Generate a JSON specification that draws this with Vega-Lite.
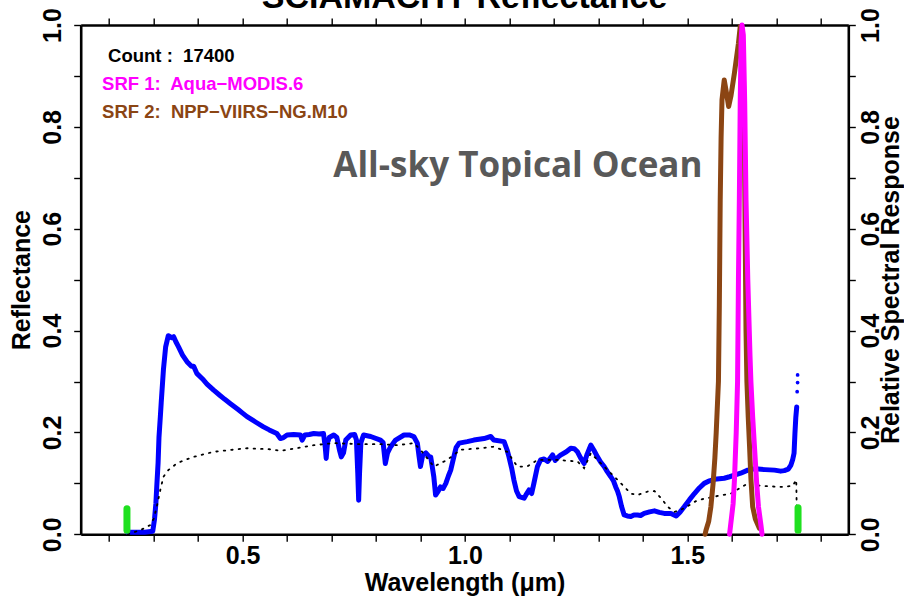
{
  "$schema": "https://vega.github.io/schema/vega-lite/v6.json",
  "width": 767.6,
  "height": 509.3,
  "autosize": {"type": "none"},
  "padding": {"left": 80.7, "top": 25, "right": 55.7, "bottom": 64.7},
  "background": "white",
  "config": {
    "view": {"stroke": null},
    "font": "Liberation Sans",
    "axis": {
      "domainColor": "black", "domainWidth": 2.6, "tickColor": "black", "tickWidth": 1.4, "tickSize": 7,
      "grid": false, "labelFont": "Liberation Sans", "labelFontWeight": "bold", "labelFontSize": 25, "labelColor": "black",
      "titleFont": "Liberation Sans", "titleFontWeight": "bold", "titleFontSize": 25, "titleColor": "black", "labelOverlap": false, "labelFlush": false
    }
  },
  "title": {"text": "SCIAMACHY Reflectance", "fontSize": 34, "font": "Liberation Sans", "fontWeight": "bold", "anchor": "middle", "frame": "group", "offset": 0, "dy": 7, "color": "black"},
  "datasets": {
    "refl": [
      {"w":0.242,"r":0.004},{"w":0.26,"r":0.004},{"w":0.28,"r":0.004},{"w":0.298,"r":0.006},{"w":0.302,"r":0.03},{"w":0.305,"r":0.06},{"w":0.307,"r":0.093},{"w":0.31,"r":0.14},{"w":0.312,"r":0.19},{"w":0.315,"r":0.23},{"w":0.317,"r":0.258},{"w":0.322,"r":0.323},{"w":0.327,"r":0.368},{"w":0.333,"r":0.39},{"w":0.34,"r":0.386},{"w":0.345,"r":0.388},{"w":0.35,"r":0.378},{"w":0.356,"r":0.368},{"w":0.365,"r":0.352},{"w":0.375,"r":0.339},{"w":0.385,"r":0.33},{"w":0.39,"r":0.33},{"w":0.397,"r":0.316},{"w":0.41,"r":0.305},{"w":0.42,"r":0.295},{"w":0.435,"r":0.283},{"w":0.45,"r":0.272},{"w":0.46,"r":0.265},{"w":0.472,"r":0.257},{"w":0.49,"r":0.245},{"w":0.5,"r":0.238},{"w":0.51,"r":0.231},{"w":0.53,"r":0.22},{"w":0.547,"r":0.211},{"w":0.56,"r":0.205},{"w":0.577,"r":0.198},{"w":0.585,"r":0.188},{"w":0.592,"r":0.19},{"w":0.6,"r":0.195},{"w":0.615,"r":0.196},{"w":0.63,"r":0.195},{"w":0.634,"r":0.185},{"w":0.64,"r":0.195},{"w":0.65,"r":0.196},{"w":0.66,"r":0.198},{"w":0.672,"r":0.197},{"w":0.682,"r":0.198},{"w":0.686,"r":0.17},{"w":0.688,"r":0.149},{"w":0.691,"r":0.18},{"w":0.695,"r":0.19},{"w":0.705,"r":0.195},{"w":0.712,"r":0.19},{"w":0.718,"r":0.165},{"w":0.722,"r":0.152},{"w":0.727,"r":0.16},{"w":0.732,"r":0.185},{"w":0.743,"r":0.195},{"w":0.752,"r":0.196},{"w":0.756,"r":0.185},{"w":0.759,"r":0.12},{"w":0.761,"r":0.067},{"w":0.763,"r":0.12},{"w":0.766,"r":0.18},{"w":0.772,"r":0.195},{"w":0.788,"r":0.192},{"w":0.81,"r":0.185},{"w":0.816,"r":0.18},{"w":0.821,"r":0.139},{"w":0.826,"r":0.16},{"w":0.833,"r":0.172},{"w":0.844,"r":0.185},{"w":0.863,"r":0.195},{"w":0.875,"r":0.195},{"w":0.885,"r":0.192},{"w":0.893,"r":0.179},{"w":0.897,"r":0.152},{"w":0.9,"r":0.133},{"w":0.905,"r":0.155},{"w":0.912,"r":0.16},{"w":0.92,"r":0.152},{"w":0.923,"r":0.152},{"w":0.927,"r":0.13},{"w":0.93,"r":0.113},{"w":0.934,"r":0.077},{"w":0.94,"r":0.085},{"w":0.945,"r":0.093},{"w":0.951,"r":0.09},{"w":0.957,"r":0.1},{"w":0.963,"r":0.115},{"w":0.968,"r":0.126},{"w":0.975,"r":0.152},{"w":0.98,"r":0.17},{"w":0.987,"r":0.179},{"w":1.005,"r":0.182},{"w":1.02,"r":0.185},{"w":1.043,"r":0.188},{"w":1.058,"r":0.192},{"w":1.065,"r":0.185},{"w":1.088,"r":0.182},{"w":1.095,"r":0.165},{"w":1.099,"r":0.152},{"w":1.105,"r":0.13},{"w":1.11,"r":0.107},{"w":1.116,"r":0.085},{"w":1.122,"r":0.074},{"w":1.133,"r":0.071},{"w":1.139,"r":0.08},{"w":1.144,"r":0.087},{"w":1.15,"r":0.08},{"w":1.155,"r":0.1},{"w":1.163,"r":0.133},{"w":1.17,"r":0.146},{"w":1.178,"r":0.148},{"w":1.186,"r":0.143},{"w":1.192,"r":0.15},{"w":1.197,"r":0.156},{"w":1.203,"r":0.145},{"w":1.21,"r":0.152},{"w":1.216,"r":0.156},{"w":1.228,"r":0.162},{"w":1.238,"r":0.169},{"w":1.246,"r":0.168},{"w":1.253,"r":0.162},{"w":1.26,"r":0.15},{"w":1.268,"r":0.139},{"w":1.275,"r":0.158},{"w":1.283,"r":0.175},{"w":1.29,"r":0.165},{"w":1.298,"r":0.152},{"w":1.305,"r":0.142},{"w":1.313,"r":0.133},{"w":1.32,"r":0.123},{"w":1.328,"r":0.113},{"w":1.334,"r":0.105},{"w":1.339,"r":0.093},{"w":1.343,"r":0.085},{"w":1.347,"r":0.074},{"w":1.352,"r":0.055},{"w":1.358,"r":0.038},{"w":1.365,"r":0.036},{"w":1.373,"r":0.035},{"w":1.38,"r":0.038},{"w":1.388,"r":0.038},{"w":1.395,"r":0.037},{"w":1.403,"r":0.041},{"w":1.415,"r":0.044},{"w":1.426,"r":0.046},{"w":1.437,"r":0.043},{"w":1.448,"r":0.041},{"w":1.463,"r":0.041},{"w":1.475,"r":0.036},{"w":1.484,"r":0.044},{"w":1.493,"r":0.054},{"w":1.505,"r":0.068},{"w":1.516,"r":0.08},{"w":1.527,"r":0.091},{"w":1.538,"r":0.1},{"w":1.55,"r":0.105},{"w":1.561,"r":0.108},{"w":1.572,"r":0.109},{"w":1.583,"r":0.11},{"w":1.595,"r":0.113},{"w":1.606,"r":0.116},{"w":1.62,"r":0.12},{"w":1.636,"r":0.126},{"w":1.648,"r":0.128},{"w":1.659,"r":0.128},{"w":1.675,"r":0.127},{"w":1.696,"r":0.126},{"w":1.71,"r":0.124},{"w":1.718,"r":0.125},{"w":1.727,"r":0.128},{"w":1.733,"r":0.136},{"w":1.737,"r":0.147},{"w":1.74,"r":0.159},{"w":1.742,"r":0.198},{"w":1.744,"r":0.23},{"w":1.746,"r":0.25}
    ],
    "reflDots": [
      {"w":1.747,"r":0.28},{"w":1.748,"r":0.298},{"w":1.748,"r":0.313}
    ],
    "ref2": [
      {"w":0.242,"r":0.0},{"w":0.27,"r":0.008},{"w":0.292,"r":0.018},{"w":0.3,"r":0.03},{"w":0.307,"r":0.054},{"w":0.315,"r":0.087},{"w":0.322,"r":0.113},{"w":0.333,"r":0.126},{"w":0.352,"r":0.139},{"w":0.37,"r":0.146},{"w":0.39,"r":0.152},{"w":0.435,"r":0.162},{"w":0.51,"r":0.169},{"w":0.56,"r":0.167},{"w":0.585,"r":0.164},{"w":0.622,"r":0.169},{"w":0.66,"r":0.175},{"w":0.705,"r":0.179},{"w":0.765,"r":0.177},{"w":0.81,"r":0.177},{"w":0.848,"r":0.175},{"w":0.885,"r":0.179},{"w":0.9,"r":0.166},{"w":0.93,"r":0.133},{"w":0.96,"r":0.146},{"w":0.99,"r":0.166},{"w":1.035,"r":0.169},{"w":1.065,"r":0.172},{"w":1.095,"r":0.162},{"w":1.118,"r":0.133},{"w":1.14,"r":0.133},{"w":1.163,"r":0.146},{"w":1.208,"r":0.146},{"w":1.253,"r":0.143},{"w":1.268,"r":0.13},{"w":1.283,"r":0.159},{"w":1.313,"r":0.133},{"w":1.343,"r":0.107},{"w":1.373,"r":0.08},{"w":1.388,"r":0.077},{"w":1.411,"r":0.084},{"w":1.426,"r":0.085},{"w":1.441,"r":0.071},{"w":1.456,"r":0.054},{"w":1.471,"r":0.044},{"w":1.493,"r":0.051},{"w":1.523,"r":0.067},{"w":1.561,"r":0.074},{"w":1.598,"r":0.08},{"w":1.636,"r":0.1},{"w":1.666,"r":0.095},{"w":1.711,"r":0.093},{"w":1.737,"r":0.095},{"w":1.745,"r":0.107},{"w":1.746,"r":0.05},{"w":1.747,"r":0.0}
    ],
    "srf1": [
      {"w":1.595,"s":0.0},{"w":1.597,"s":0.015},{"w":1.603,"s":0.06},{"w":1.606,"s":0.107},{"w":1.61,"s":0.2},{"w":1.613,"s":0.3},{"w":1.615,"s":0.5},{"w":1.617,"s":0.657},{"w":1.619,"s":0.85},{"w":1.621,"s":0.97},{"w":1.623,"s":1.0},{"w":1.626,"s":0.98},{"w":1.629,"s":0.85},{"w":1.632,"s":0.657},{"w":1.636,"s":0.5},{"w":1.641,"s":0.35},{"w":1.643,"s":0.3},{"w":1.647,"s":0.23},{"w":1.651,"s":0.172},{"w":1.656,"s":0.1},{"w":1.66,"s":0.054},{"w":1.666,"s":0.015},{"w":1.668,"s":0.0}
    ],
    "srf2": [
      {"w":1.54,"s":0.0},{"w":1.542,"s":0.008},{"w":1.548,"s":0.025},{"w":1.553,"s":0.054},{"w":1.558,"s":0.1},{"w":1.562,"s":0.15},{"w":1.565,"s":0.2},{"w":1.57,"s":0.3},{"w":1.572,"s":0.45},{"w":1.574,"s":0.657},{"w":1.576,"s":0.78},{"w":1.578,"s":0.853},{"w":1.583,"s":0.892},{"w":1.587,"s":0.872},{"w":1.593,"s":0.84},{"w":1.598,"s":0.86},{"w":1.606,"s":0.906},{"w":1.615,"s":0.964},{"w":1.619,"s":0.997},{"w":1.622,"s":0.99},{"w":1.625,"s":0.951},{"w":1.628,"s":0.82},{"w":1.63,"s":0.6},{"w":1.632,"s":0.4},{"w":1.634,"s":0.3},{"w":1.637,"s":0.23},{"w":1.64,"s":0.172},{"w":1.643,"s":0.11},{"w":1.647,"s":0.054},{"w":1.653,"s":0.03},{"w":1.662,"s":0.012}
    ],
    "range": [
      {"w":0.24,"lo":0.008,"hi":0.05},{"w":1.749,"lo":0.008,"hi":0.052}
    ],
    "notes": [
      {"w":0.1976,"r":0.94,"t":"Count :\u00a0 17400","k":"count"},
      {"w":0.184,"r":0.884,"t":"SRF 1:\u00a0 Aqua\u2212MODIS.6","k":"srf1"},
      {"w":0.184,"r":0.83,"t":"SRF 2:\u00a0 NPP\u2212VIIRS\u2212NG.M10","k":"srf2"}
    ],
    "label": [
      {"w":1.119,"r":0.723,"t":"All-sky Topical Ocean"}
    ]
  },
  "layer": [
    {
      "data": {"name": "refl"},
      "mark": {"type": "line", "color": "#0000ff", "strokeWidth": 5, "strokeJoin": "round", "strokeCap": "round"},
      "encoding": {
        "x": {"field": "w", "type": "quantitative", "scale": {"domain": [0.136, 1.862], "nice": false, "zero": false},
          "axis": {"orient": "bottom", "title": "Wavelength (\u03bcm)", "values": [0.2,0.3,0.4,0.5,0.6,0.7,0.8,0.9,1.0,1.1,1.2,1.3,1.4,1.5,1.6,1.7,1.8],
            "labelExpr": "datum.value == 0.5 || datum.value == 1 || datum.value == 1.5 ? format(datum.value, '.1f') : ''", "labelPadding": 2, "titlePadding": 2}},
        "y": {"field": "r", "type": "quantitative", "scale": {"domain": [0, 1], "nice": false},
          "axis": {"orient": "left", "title": "Reflectance", "values": [0,0.1,0.2,0.3,0.4,0.5,0.6,0.7,0.8,0.9,1.0],
            "labelExpr": "datum.value == 0 || datum.value == 0.2 || datum.value == 0.4 || datum.value == 0.6 || datum.value == 0.8 || datum.value == 1 ? format(datum.value, '.1f') : ''",
            "labelAngle": 270, "labelAlign": "center", "labelBaseline": "bottom", "labelPadding": 8, "titlePadding": 6}}
      }
    },
    {
      "data": {"name": "reflDots"},
      "mark": {"type": "point", "filled": true, "color": "#0000ff", "size": 14, "opacity": 1},
      "encoding": {
        "x": {"field": "w", "type": "quantitative", "axis": null},
        "y": {"field": "r", "type": "quantitative", "axis": null}
      }
    },
    {
      "data": {"name": "ref2"},
      "mark": {"type": "line", "color": "black", "strokeWidth": 1.8, "strokeDash": [1.5, 6], "strokeCap": "round"},
      "encoding": {
        "x": {"field": "w", "type": "quantitative", "axis": null},
        "y": {"field": "r", "type": "quantitative", "axis": null}
      }
    },
    {
      "data": {"name": "range"},
      "mark": {"type": "rule", "color": "#1fe01f", "strokeWidth": 7, "strokeCap": "round"},
      "encoding": {
        "x": {"field": "w", "type": "quantitative", "axis": null},
        "y": {"field": "lo", "type": "quantitative", "axis": null},
        "y2": {"field": "hi"}
      }
    },
    {
      "data": {"name": "srf2"},
      "mark": {"type": "line", "color": "#8b4513", "strokeWidth": 5, "strokeJoin": "round", "strokeCap": "round"},
      "encoding": {
        "x": {"field": "w", "type": "quantitative",
          "axis": {"orient": "top", "title": null, "labels": false, "values": [0.2,0.3,0.4,0.5,0.6,0.7,0.8,0.9,1.0,1.1,1.2,1.3,1.4,1.5,1.6,1.7,1.8]}},
        "y": {"field": "s", "type": "quantitative",
          "axis": {"orient": "right", "title": "Relative Spectral Response", "values": [0,0.1,0.2,0.3,0.4,0.5,0.6,0.7,0.8,0.9,1.0],
            "labelExpr": "datum.value == 0 || datum.value == 0.2 || datum.value == 0.4 || datum.value == 0.6 || datum.value == 0.8 || datum.value == 1 ? format(datum.value, '.1f') : ''",
            "labelAngle": 270, "labelAlign": "center", "labelBaseline": "top", "labelPadding": 3, "titleAngle": 270, "titleAlign": "center", "titleBaseline": "middle", "titleX": 42, "titleY": 254.6}}
      }
    },
    {
      "data": {"name": "srf1"},
      "mark": {"type": "line", "color": "#ff00ff", "strokeWidth": 5, "strokeJoin": "round", "strokeCap": "round"},
      "encoding": {
        "x": {"field": "w", "type": "quantitative", "axis": null},
        "y": {"field": "s", "type": "quantitative", "axis": null}
      }
    },
    {
      "data": {"name": "notes"},
      "mark": {"type": "text", "align": "left", "baseline": "middle", "fontSize": 18.5, "fontWeight": "bold", "font": "Liberation Sans"},
      "encoding": {
        "x": {"field": "w", "type": "quantitative", "axis": null},
        "y": {"field": "r", "type": "quantitative", "axis": null},
        "text": {"field": "t"},
        "color": {"field": "k", "type": "nominal", "legend": null, "scale": {"domain": ["count", "srf1", "srf2"], "range": ["#000000", "#ff00ff", "#8b4513"]}}
      }
    },
    {
      "data": {"name": "label"},
      "mark": {"type": "text", "align": "center", "baseline": "middle", "fontSize": 35, "fontWeight": "bold", "font": "Open Sans", "color": "#595959"},
      "encoding": {
        "x": {"field": "w", "type": "quantitative", "axis": null},
        "y": {"field": "r", "type": "quantitative", "axis": null},
        "text": {"field": "t"}
      }
    }
  ],
  "resolve": {"axis": {"x": "independent", "y": "independent"}, "scale": {"color": "independent"}}
}
